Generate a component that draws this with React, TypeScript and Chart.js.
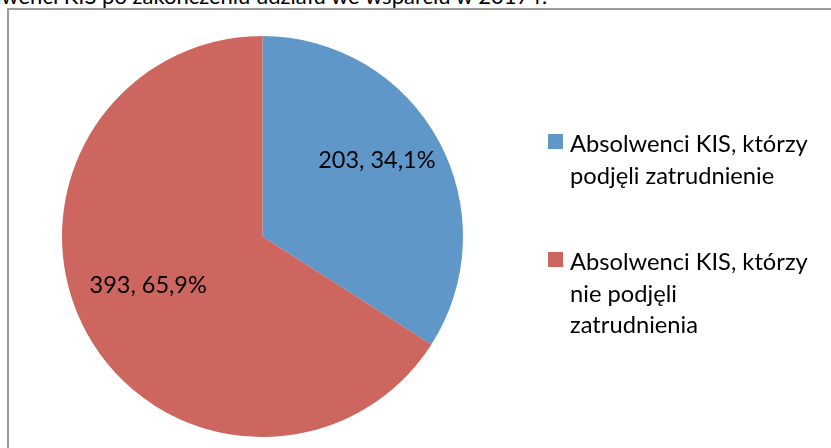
import React, { useEffect, useRef } from "react";
import { Chart, registerables } from "chart.js";

Chart.register(...registerables);

const titleText = "Absolwenci KIS po zakończeniu udziału we wsparciu w 2017 r.";
const categories = [
  ["Absolwenci KIS, którzy", "podjęli zatrudnienie"],
  ["Absolwenci KIS, którzy", "nie podjęli", "zatrudnienia"],
];
const values = [203, 393];
const percentLabels = ["34,1%", "65,9%"];
const colors = ["#6097C9", "#CC665F"];

const FONT = "Lato, 'Open Sans', sans-serif";

const labelPlugin = {
  id: "sliceLabels",
  afterDatasetsDraw(chart: any) {
    const ctx = chart.ctx;
    const meta = chart.getDatasetMeta(0);
    ctx.save();
    ctx.fillStyle = "#000";
    ctx.font = `23.5px ${FONT}`;
    ctx.textAlign = "center";
    ctx.textBaseline = "middle";
    meta.data.forEach((arc: any, i: number) => {
      const p = arc.getProps(["x", "y", "startAngle", "endAngle", "outerRadius"], true);
      const mid = (p.startAngle + p.endAngle) / 2;
      const r = p.outerRadius * 0.65;
      const x = p.x + Math.cos(mid) * r;
      const y = p.y + Math.sin(mid) * r - 14;
      ctx.fillText(`${values[i]}, ${percentLabels[i]}`, x, y);
    });
    ctx.restore();
  },
};

export default function App() {
  const ref = useRef<HTMLCanvasElement>(null);
  useEffect(() => {
    if (!ref.current) return;
    const chart = new Chart(ref.current, {
      type: "pie",
      data: {
        labels: categories.map((c) => c.join(" ")),
        datasets: [
          {
            data: values,
            backgroundColor: colors,
            borderWidth: 0,
            hoverOffset: 0,
          },
        ],
      },
      options: {
        responsive: false,
        animation: false,
        layout: { padding: { left: 62, top: 36, right: 368, bottom: 11 } },
        plugins: {
          legend: { display: false },
          tooltip: { enabled: false },
          title: { display: false },
        },
      },
      plugins: [labelPlugin],
    });
    return () => chart.destroy();
  }, []);

  return (
    <div
      style={{
        position: "fixed",
        left: 0,
        top: 0,
        width: 831,
        height: 448,
        background: "#fff",
        overflow: "hidden",
        fontFamily: FONT,
      }}
    >
      <div
        style={{
          position: "absolute",
          left: -53,
          top: -15,
          fontSize: 22,
          lineHeight: "22px",
          whiteSpace: "nowrap",
          color: "#000",
        }}
      >
        {titleText}
      </div>
      <div
        style={{
          position: "absolute",
          left: 7,
          top: 8,
          width: 900,
          height: 500,
          borderTop: "2px solid #9a9a9a",
          borderLeft: "2px solid #9a9a9a",
          boxSizing: "border-box",
          background: "#fff",
        }}
      />
      <canvas
        ref={ref}
        width={831}
        height={448}
        style={{ position: "absolute", left: 0, top: 0, width: 831, height: 448 }}
      />
      {categories.map((lines, i) => (
        <div
          key={i}
          style={{
            position: "absolute",
            left: 548,
            top: i === 0 ? 128 : 246,
            color: "#000",
          }}
        >
          <div
            style={{
              position: "absolute",
              left: 0,
              top: 6,
              width: 15,
              height: 15,
              background: colors[i],
            }}
          />
          <div
            style={{
              position: "absolute",
              left: 22,
              top: 0,
              fontSize: 23.7,
              lineHeight: "31.5px",
              whiteSpace: "nowrap",
            }}
          >
            {lines.map((l, j) => (
              <div key={j}>{l}</div>
            ))}
          </div>
        </div>
      ))}
    </div>
  );
}
